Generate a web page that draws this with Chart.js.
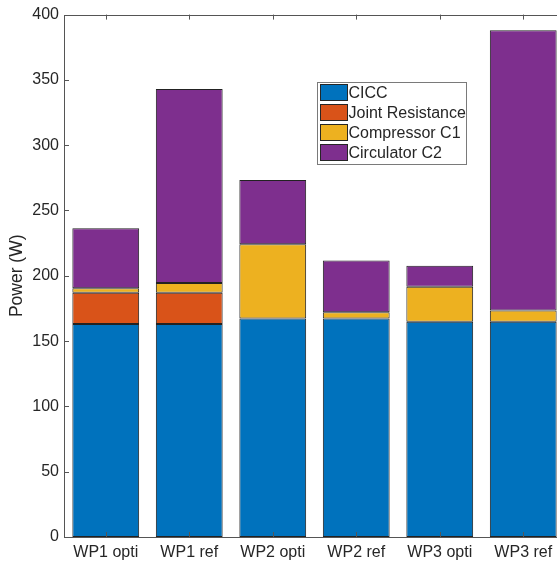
<!DOCTYPE html>
<html>
<head>
<meta charset="utf-8">
<script src="https://cdn.jsdelivr.net/npm/chart.js@4"></script>
<style>
html, body { margin: 0; padding: 0; background: #fff; overflow: hidden; }
#wrap { position: relative; width: 565px; height: 564px; }
</style>
</head>
<body>
<div id="wrap"><canvas id="grafica_potencia"></canvas></div>
<script>
// datos
const categorias = ['WP1 opti', 'WP1 ref', 'WP2 opti', 'WP2 ref', 'WP3 opti', 'WP3 ref'];
const cicc = [163, 163, 167.4, 167.4, 164.8, 164.8];
const joint_resistance = [24, 24, 0, 0, 0, 0];
const compressor_c1 = [3.5, 7.5, 56.8, 4.6, 26.8, 8.7];
const circulator_c2 = [46, 148.5, 49.2, 39.7, 16, 214.5];
const nombres_series = ['CICC', 'Joint Resistance', 'Compressor C1', 'Circulator C2'];
const colores = ['#0072BD', '#D95319', '#EDB120', '#7E2F8E'];
const y_min = 0, y_max = 400, y_paso = 50;

const fuente = "'Liberation Sans', Arial, Helvetica, sans-serif";
const color_texto = '#262626';
const color_ejes = '#555555';

// ticks hacia adentro y caja del eje (estilo matlab)
const ejesMatlab = {
    id: 'ejesMatlab',
    afterDatasetsDraw(chart) {
        const {ctx, chartArea: a, scales} = chart;
        ctx.save();
        ctx.strokeStyle = color_ejes;
        ctx.lineWidth = 1;
        ctx.beginPath();
        scales.y.ticks.forEach((t, i) => {
            const py = Math.round(scales.y.getPixelForTick(i)) + 0.5;
            ctx.moveTo(a.left, py);
            ctx.lineTo(a.left + 5, py);
        });
        scales.x.ticks.forEach((t, i) => {
            const px = Math.round(scales.x.getPixelForTick(i)) + 0.5;
            ctx.moveTo(px, a.bottom);
            ctx.lineTo(px, a.bottom - 5);
            ctx.moveTo(px, a.top);
            ctx.lineTo(px, a.top + 5);
        });
        ctx.stroke();
        ctx.strokeRect(Math.round(a.left) + 0.5, Math.round(a.top) + 0.5, a.width + 2, Math.round(a.height));
        ctx.restore();
    }
};

// leyenda dentro del area de la grafica
const leyendaInterna = {
    id: 'leyendaInterna',
    afterDraw(chart) {
        const {ctx, chartArea: a} = chart;
        const x0 = a.left + 252.5, y0 = a.top + 67;
        const ancho = 149, alto = 82;
        ctx.save();
        ctx.fillStyle = '#ffffff';
        ctx.fillRect(x0, y0, ancho, alto);
        ctx.strokeStyle = '#7a7a7a';
        ctx.lineWidth = 1;
        ctx.strokeRect(Math.round(x0) + 0.5, Math.round(y0) + 0.5, ancho, alto);
        ctx.font = '16px ' + fuente;
        ctx.textBaseline = 'middle';
        ctx.textAlign = 'left';
        nombres_series.forEach((nombre, i) => {
            const cy = y0 + 10.5 + i * 20;
            ctx.fillStyle = colores[i];
            ctx.fillRect(x0 + 3.5, cy - 8, 27, 16);
            ctx.strokeStyle = '#262626';
            ctx.strokeRect(Math.round(x0 + 3) + 0.5, Math.round(cy - 8) + 0.5, 27, 16);
            ctx.fillStyle = color_texto;
            ctx.fillText(nombre, x0 + 32, cy + 1);
        });
        ctx.restore();
    }
};

const valores = [cicc, joint_resistance, compressor_c1, circulator_c2];

const ctx_potencia = document.getElementById('grafica_potencia').getContext('2d');

new Chart(ctx_potencia, {
    type: 'bar',
    data: {
        labels: categorias,
        datasets: nombres_series.map((nombre, i) => ({
            label: nombre,
            data: valores[i],
            backgroundColor: colores[i],
            borderColor: '#222222',
            // los segmentos en cero no se dibujan
            borderWidth: c => (c.raw === 0 ? 0 : 1),
            borderSkipped: false,
            barPercentage: 0.8,
            categoryPercentage: 1.0
        }))
    },
    options: {
        responsive: true,
        maintainAspectRatio: false,
        animation: false,
        layout: { padding: { top: 13, right: 0, left: 0, bottom: 0 } },
        scales: {
            x: {
                stacked: true,
                grid: { display: false, drawTicks: false, tickLength: 0 },
                border: { display: false },
                ticks: {
                    color: color_texto,
                    padding: 6,
                    font: { family: fuente, size: 16 },
                    maxRotation: 0
                },
                afterFit(scale) { scale.height = 27; }
            },
            y: {
                stacked: true,
                min: y_min,
                max: y_max,
                grid: { display: false, drawTicks: false, tickLength: 0 },
                border: { display: false },
                ticks: {
                    stepSize: y_paso,
                    color: color_texto,
                    padding: 5,
                    font: { family: fuente, size: 16 }
                },
                title: {
                    display: true,
                    text: 'Power (W)',
                    color: color_texto,
                    font: { family: fuente, size: 17.5 },
                    padding: { top: 7, bottom: 0 }
                },
                afterFit(scale) { scale.width = 64; }
            }
        },
        plugins: {
            legend: { display: false },
            tooltip: { enabled: false }
        }
    },
    plugins: [ejesMatlab, leyendaInterna]
});
</script>
</body>
</html>
